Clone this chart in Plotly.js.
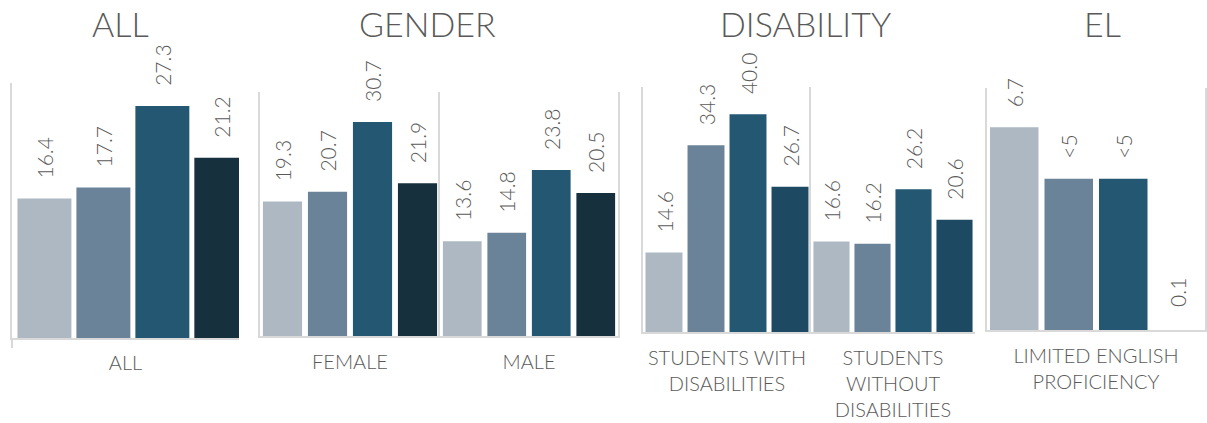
<!DOCTYPE html>
<html>
<head>
<meta charset="utf-8">
<script src="https://cdn.plot.ly/plotly-3.0.1.min.js"></script>
<style>html,body{margin:0;padding:0;background:#fff;}#chart{width:1207px;height:423px;}</style>
</head>
<body>
<div id="chart"></div>
<script>
// ---- data ----
const categories = ["ALL", "FEMALE", "MALE", "STUDENTS WITH<br>DISABILITIES", "STUDENTS<br>WITHOUT<br>DISABILITIES", "LIMITED ENGLISH<br>PROFICIENCY"];
const panelTitles = ["ALL", "GENDER", "DISABILITY", "EL"];
const series1 = [16.4, 19.3, 13.6, 14.6, 16.6, 6.7];
const series2 = [17.7, 20.7, 14.8, 34.3, 16.2, 5];
const series3 = [27.3, 30.7, 23.8, 40.0, 26.2, 5];
const series4 = [21.2, 21.9, 20.5, 26.7, 20.6, 0.1];
const labels1 = ["16.4", "19.3", "13.6", "14.6", "16.6", "6.7"];
const labels2 = ["17.7", "20.7", "14.8", "34.3", "16.2", "<5"];
const labels3 = ["27.3", "30.7", "23.8", "40.0", "26.2", "<5"];
const labels4 = ["21.2", "21.9", "20.5", "26.7", "20.6", "0.1"];

// ---- styling / layout ----
const W = 1207, H = 423;
const FONT = "Century Gothic, URW Gothic, Lato, sans-serif";
const WEIGHT = 300;
const TXT = "#595959";
const LINE = "#d9d9d9";
const colorsDark = ["#adb8c3", "#6b8398", "#235772", "#17303e"];
const colorsBlue = ["#adb8c3", "#6b8398", "#235772", "#1d4962"];
const colorsEL = ["#adb8c3", "#6b8398", "#235772", "rgba(0,0,0,0)"];

const subplots = [
  {x0: 12,  x1: 239,  top: 83, base: 338, ymax: 30, xr: [-0.55, 3.3], mirror: false, colors: colorsDark, gap: 0.085, tick: true, standoff: 9},
  {x0: 260, x1: 440,  top: 92, base: 336, ymax: 35, xr: [-0.5, 3.5],  mirror: false, colors: colorsDark, gap: 0.13, standoff: 18},
  {x0: 440, x1: 618,  top: 92, base: 336, ymax: 35, xr: [-0.5, 3.5],  mirror: true,  colors: colorsDark, gap: 0.13, standoff: 18},
  {x0: 643, x1: 811,  top: 87, base: 332, ymax: 45, xr: [-0.5, 3.5],  mirror: false, colors: colorsBlue, gap: 0.12, standoff: 18},
  {x0: 811, x1: 975,  top: 87, base: 332, ymax: 45, xr: [-0.5, 3.5],  mirror: false, colors: colorsBlue, gap: 0.12, standoff: 18},
  {x0: 987, x1: 1205, top: 88, base: 330, ymax: 8,  xr: [-0.5, 3.5],  mirror: true,  colors: colorsEL, gap: 0.11, standoff: 18}
];
const titleX = [120, 427, 806, 1102];

const pad = "\u00A0\u00A0\u00A0";
const traces = [];
const layout = {
  width: W, height: H,
  margin: {l: 0, r: 0, t: 0, b: 0},
  paper_bgcolor: "#fff", plot_bgcolor: "rgba(0,0,0,0)",
  showlegend: false,
  font: {family: FONT, color: TXT, weight: WEIGHT},
  annotations: [],
  bargap: 0.1
};

subplots.forEach((sp, i) => {
  const n = i + 1;
  const xa = n === 1 ? "x" : "x" + n;
  const ya = n === 1 ? "y" : "y" + n;
  const vals = [series1[i], series2[i], series3[i], series4[i]];
  const labs = [labels1[i], labels2[i], labels3[i], labels4[i]];
  traces.push({
    type: "bar",
    x: [0, 1, 2, 3],
    y: vals,
    xaxis: xa, yaxis: ya,
    width: 1 - sp.gap,
    marker: {color: sp.colors, line: {width: 0}},
    text: labs.map(l => pad + l),
    textposition: "outside",
    textangle: -90,
    constraintext: "none",
    cliponaxis: false,
    textfont: {family: FONT, size: 21, color: TXT, weight: WEIGHT},
    hoverinfo: "skip"
  });
  const xKey = n === 1 ? "xaxis" : "xaxis" + n;
  const yKey = n === 1 ? "yaxis" : "yaxis" + n;
  layout[xKey] = {
    domain: [sp.x0 / W, sp.x1 / W],
    range: sp.xr,
    anchor: ya,
    showgrid: false, zeroline: false,
    showline: true, linecolor: LINE, linewidth: 2,
    showticklabels: false,
    ticks: sp.tick ? "outside" : "",
    tickvals: sp.tick ? [sp.xr[0] + 0.005] : [],
    ticklen: 8, tickwidth: 2, tickcolor: LINE,
    fixedrange: true,
    title: {text: categories[i], standoff: sp.standoff, font: {family: FONT, size: 20, color: TXT, weight: WEIGHT}}
  };
  layout[yKey] = {
    domain: [(H - sp.base) / H, (H - sp.top) / H],
    range: [0, sp.ymax],
    anchor: xa,
    showgrid: false, zeroline: false,
    showline: true, linecolor: LINE, linewidth: 2,
    mirror: sp.mirror,
    showticklabels: false, ticks: "",
    fixedrange: true
  };
});

panelTitles.forEach((t, k) => {
  layout.annotations.push({
    text: t, xref: "paper", yref: "paper",
    x: titleX[k] / W, y: (H - 24) / H,
    xanchor: "center", yanchor: "middle",
    showarrow: false,
    font: {family: FONT, size: 34, color: TXT, weight: WEIGHT}
  });
});

Plotly.newPlot("chart", traces, layout, {displayModeBar: false, staticPlot: true});
</script>
</body>
</html>
